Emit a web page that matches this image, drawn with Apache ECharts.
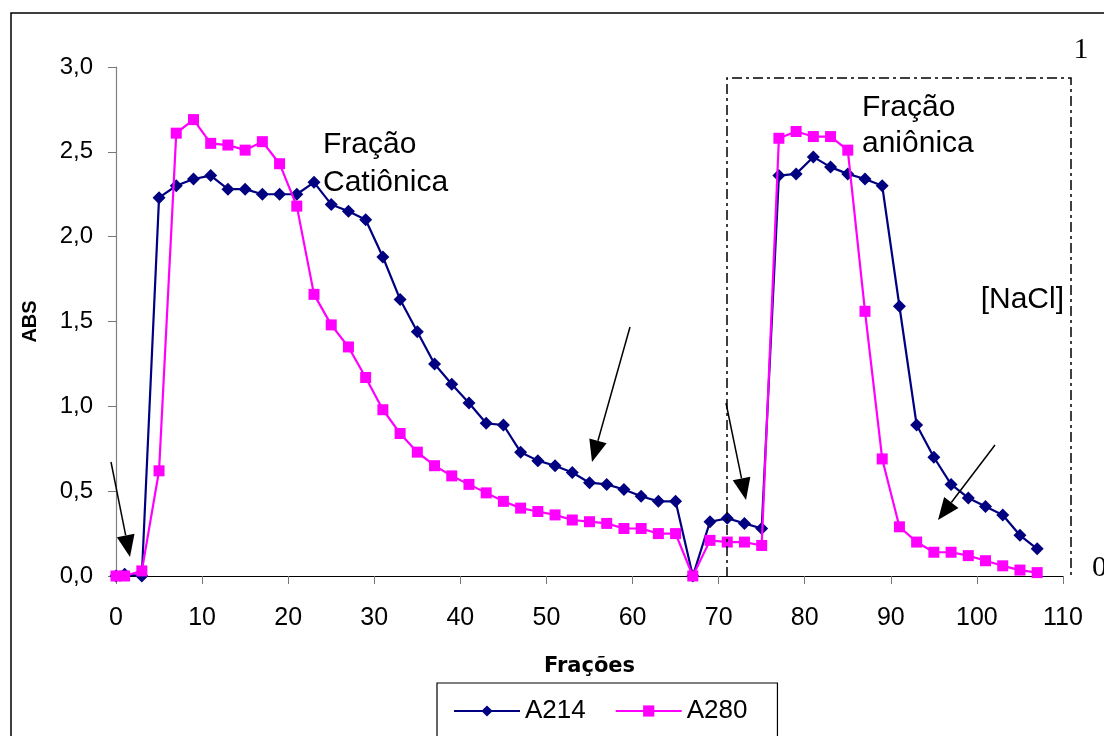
<!DOCTYPE html>
<html>
<head>
<meta charset="utf-8">
<script src="https://cdn.jsdelivr.net/npm/echarts@6/dist/echarts.min.js"></script>
<style>html,body{margin:0;padding:0;background:#fff}#c{width:1104px;height:736px}</style>
</head>
<body>
<div id="c"></div>
<script>
// Fractions (x values)
var fractions = [0,1,3,5,7,9,11,13,15,17,19,21,23,25,27,29,31,33,35,37,39,41,43,45,47,49,51,53,55,57,59,61,63,65,67,69,71,73,75,77,79,81,83,85,87,89,91,93,95,97,99,101,103,105,107];
var a214 = [0.00,0.01,0.00,2.23,2.30,2.34,2.36,2.28,2.28,2.25,2.25,2.25,2.32,2.19,2.15,2.10,1.88,1.63,1.44,1.25,1.13,1.02,0.90,0.89,0.73,0.68,0.65,0.61,0.55,0.54,0.51,0.47,0.44,0.44,0.00,0.32,0.34,0.31,0.28,2.36,2.37,2.47,2.41,2.37,2.34,2.30,1.59,0.89,0.70,0.54,0.46,0.41,0.36,0.24,0.16];
var a280 = [0.00,0.00,0.03,0.62,2.61,2.69,2.55,2.54,2.51,2.56,2.43,2.18,1.66,1.48,1.35,1.17,0.98,0.84,0.73,0.65,0.59,0.54,0.49,0.44,0.40,0.38,0.36,0.33,0.32,0.31,0.28,0.28,0.25,0.25,0.00,0.21,0.20,0.20,0.18,2.58,2.62,2.59,2.59,2.51,1.56,0.69,0.29,0.20,0.14,0.14,0.12,0.09,0.06,0.035,0.02];
var seriesNames = ['A214','A280'];
var xAxisTitle = 'Frações';
var yAxisTitle = 'ABS';

function pairs(xs, ys){ return xs.map(function(x,i){ return [x, ys[i]]; }); }

var chart = echarts.init(document.getElementById('c'), null, {renderer:'canvas'});
var FONT = 'Arial, "Liberation Sans", sans-serif';
var SERIF = '"Liberation Serif", "DejaVu Serif", serif';

function arrow(x1,y1,x2,y2){
  var dx=x2-x1, dy=y2-y1, L=Math.sqrt(dx*dx+dy*dy), ux=dx/L, uy=dy/L;
  var hl=22, hw=9;
  var bx=x2-ux*hl, by=y2-uy*hl;
  return [
    {type:'line', shape:{x1:x1,y1:y1,x2:bx,y2:by}, style:{stroke:'#000',lineWidth:1.5}, z:100},
    {type:'polygon', shape:{points:[[x2,y2],[bx-uy*hw,by+ux*hw],[bx+uy*hw,by-ux*hw]]}, style:{fill:'#000'}, z:100}
  ];
}

var graphics = [
  {type:'rect', shape:{x:11,y:13,width:1300,height:900}, style:{fill:'none',stroke:'#000',lineWidth:1.5}, z:-1},
  {type:'polyline', shape:{points:[[727,577],[727,78],[1071,78],[1071,577]]}, style:{fill:'none',stroke:'#000',lineWidth:1.5,lineDash:[10,4,3,4]}, z:50},
  {type:'text', x:323, y:126, style:{text:'Fração\nCatiônica', font:'30px '+FONT, fill:'#000', lineHeight:38, verticalAlign:'top', align:'left'}, z:100},
  {type:'text', x:862, y:90, style:{text:'Fração\naniônica', font:'30px '+FONT, fill:'#000', lineHeight:36, verticalAlign:'top', align:'left'}, z:100},
  {type:'text', x:1064, y:300, style:{text:'[NaCl]', font:'30px '+FONT, fill:'#000', verticalAlign:'middle', align:'right'}, z:100},
  {type:'text', x:1081, y:50, style:{text:'1', font:'30px '+SERIF, fill:'#000', verticalAlign:'middle', align:'center'}, z:100},
  {type:'text', x:1092, y:568, style:{text:'0', font:'30px '+SERIF, fill:'#000', verticalAlign:'middle', align:'left'}, z:100}
];
graphics = graphics.concat(arrow(111,462,130,557), arrow(630,327,592,462), arrow(726,403,746,500), arrow(995,445,938,520));

chart.setOption({
  animation:false,
  backgroundColor:'#fff',
  grid:{left:116, right:41, top:67, bottom:160, containLabel:false},
  xAxis:{
    type:'value', min:0, max:110, interval:10,
    name:xAxisTitle, nameLocation:'middle', nameGap:80,
    nameTextStyle:{fontFamily:'"DejaVu Sans", Arial, sans-serif', fontWeight:'bold', fontSize:21, color:'#000'},
    axisLine:{show:true, onZero:false, lineStyle:{color:'#000', width:1.2}},
    axisTick:{show:true, length:8, lineStyle:{color:'#777'}},
    axisLabel:{fontFamily:FONT, fontSize:25, color:'#000', margin:30},
    splitLine:{show:false}
  },
  yAxis:{
    type:'value', min:0, max:3, interval:0.5,
    name:yAxisTitle, nameLocation:'middle', nameGap:76, nameRotate:90,
    nameTextStyle:{fontFamily:FONT, fontWeight:'bold', fontSize:20, color:'#000'},
    axisLine:{show:true, lineStyle:{color:'#808080', width:1.2}},
    axisTick:{show:true, length:8, lineStyle:{color:'#777'}},
    axisLabel:{fontFamily:FONT, fontSize:24, color:'#000', margin:23,
      formatter:function(v){ return v.toFixed(1).replace('.', ','); }},
    splitLine:{show:false}
  },
  legend:{
    left:437, top:683, orient:'horizontal',
    borderColor:'#000', borderWidth:1.2, backgroundColor:'#fff',
    padding:[15,30,40,16], itemGap:29, itemWidth:66, itemHeight:14,
    textStyle:{fontFamily:FONT, fontSize:26, color:'#000'},
    data:seriesNames
  },
  series:[
    {name:seriesNames[0], type:'line', data:pairs(fractions,a214), symbol:'diamond', symbolSize:13,
      lineStyle:{color:'#000080', width:2.2}, itemStyle:{color:'#000080'}, z:2},
    {name:seriesNames[1], type:'line', data:pairs(fractions,a280), symbol:'rect', symbolSize:11,
      lineStyle:{color:'#FF00FF', width:2.2}, itemStyle:{color:'#FF00FF'}, z:3}
  ],
  graphic:graphics
});
</script>
</body>
</html>
